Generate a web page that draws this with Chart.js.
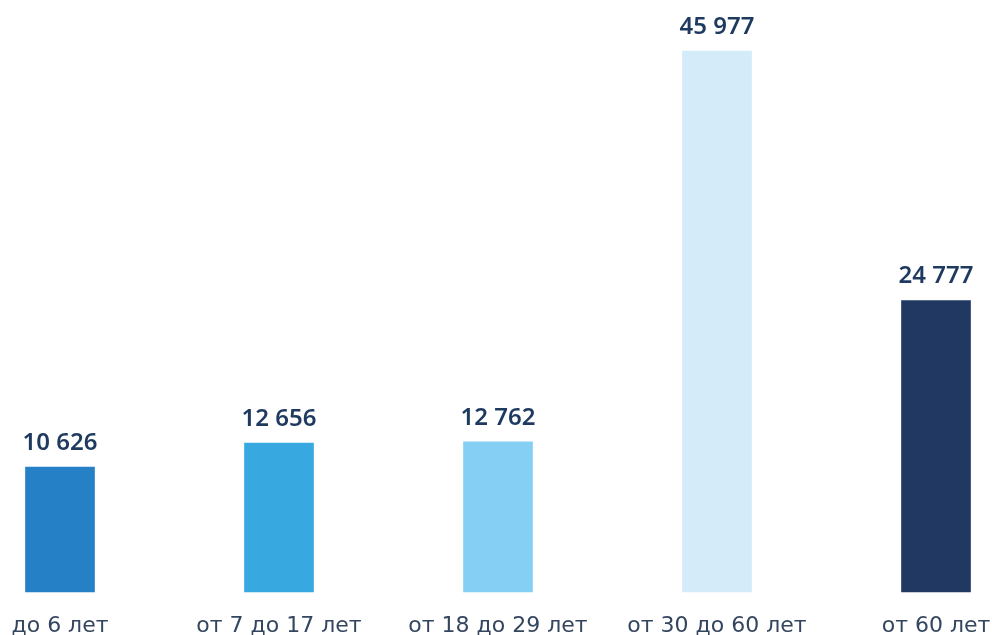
<!DOCTYPE html>
<html lang="ru">
<head>
    <meta charset="UTF-8">
    <title>Возрастные группы</title>
    <style>
        body {
            margin: 0;
            background: #fff;
        }
        #chart {
            display: block;
        }
    </style>
</head>
<body>
    <canvas id="chart" width="992" height="635"></canvas>

    <script src="https://cdn.jsdelivr.net/npm/chart.js"></script>
    <script>
        // Данные
        const categories = ['до 6 лет', 'от 7 до 17 лет', 'от 18 до 29 лет', 'от 30 до 60 лет', 'от 60 лет'];
        const values = [10626, 12656, 12762, 45977, 24777];
        const barColors = ['#2680C5', '#38A9E0', '#85CFF5', '#D4EBFA', '#213862'];

        const valueFont = '"Noto Sans", sans-serif';
        const tickFont = '"DejaVu Sans", sans-serif';

        // Подписи значений над столбцами
        const valueLabels = {
            id: 'valueLabels',
            afterDatasetsDraw(chart) {
                const ctx = chart.ctx;
                const meta = chart.getDatasetMeta(0);
                ctx.save();
                ctx.font = '600 24px ' + valueFont;
                ctx.fillStyle = '#1F3A5F';
                ctx.textAlign = 'center';
                ctx.textBaseline = 'alphabetic';
                meta.data.forEach((bar, i) => {
                    const txt = values[i].toLocaleString('ru-RU').replace(/\s/g, ' ');
                    ctx.fillText(txt, bar.x, bar.y - 17);
                });
                ctx.restore();
            }
        };

        const ctx = document.getElementById('chart').getContext('2d');
        const chart = new Chart(ctx, {
            type: 'bar',
            data: {
                labels: categories,
                datasets: [{
                    data: values,
                    backgroundColor: barColors,
                    barThickness: 69,
                    clip: false
                }]
            },
            options: {
                responsive: false,
                animation: false,
                layout: {
                    padding: { left: 60, right: 56, top: 51, bottom: 0 }
                },
                plugins: {
                    legend: { display: false },
                    tooltip: { enabled: false }
                },
                scales: {
                    x: {
                        offset: false,
                        grid: { display: false },
                        border: { display: false },
                        ticks: {
                            padding: 13,
                            maxRotation: 0,
                            autoSkip: false,
                            color: '#34465F',
                            font: { family: tickFont, size: 22 }
                        },
                        afterFit(scale) {
                            scale.paddingLeft = 0;
                            scale.paddingRight = 0;
                            scale.height = 43;
                        }
                    },
                    y: {
                        display: false,
                        min: 0,
                        max: Math.max(...values)
                    }
                }
            },
            plugins: [valueLabels]
        });
    </script>
</body>
</html>
